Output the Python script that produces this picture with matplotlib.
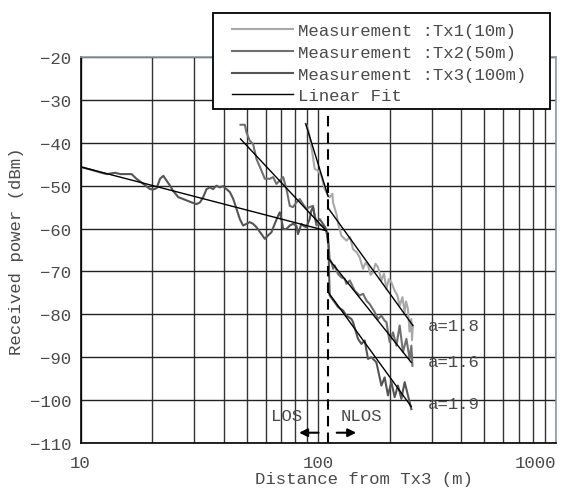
import matplotlib
matplotlib.use('Agg')
import matplotlib.pyplot as plt
from matplotlib.ticker import LogLocator, NullFormatter
from matplotlib.patches import Rectangle

plt.rcParams['font.family'] = ['Liberation Mono', 'DejaVu Sans Mono']

tx1_x = [88.6, 90.6, 93.5, 96.6, 99.8, 103, 106.4, 110, 111.7, 114.7, 115.4, 119.2, 122, 125.2,
         131.4, 136, 140, 145, 149.3, 154.3, 158, 162, 166, 170, 174, 178.4, 184.3, 189, 193.5,
         198, 203, 209.6, 215, 220, 226, 230.9, 234, 238.4, 242, 246.4, 248, 250]
tx1_y = [-35.6, -36.8, -40.7, -46.1, -46.5, -47.7, -50.8, -52.3, -52.7, -51.9, -53.9, -56.6, -59.5, -61.7,
         -62.8, -62.0, -64.8, -65.5, -66.7, -69.4, -68.0, -68.6, -70.8, -70.2, -68.2, -69.0, -72.1, -70.5, -74.1,
         -71.8, -72.5, -74.5, -75.5, -78.0, -76.0, -79.5, -77.0, -78.7, -84.0, -81.1, -86.0, -82.6]

tx2_x = [47.1, 49.1, 49.9, 51.5, 53.2, 55.0, 57.7, 59.6, 62.5, 64.6, 66.7, 68.9, 71.2, 73.5, 75.9,
         78.3, 80.9, 83.6, 86.3, 89.1, 92.0, 95.0, 96.6, 98.2, 99.8, 103, 106.4, 108, 110,
         111.7, 113.6, 115.4, 117.3, 121.1, 125.2, 129.2, 131.4, 135.7, 142.4, 149.3, 154.3, 159.5,
         164.6, 172.8, 178.4, 184.3, 190.2, 193.5, 199.7, 206.3, 213.2, 220.0, 227.2, 234.8, 242.3,
         246.4, 249]
tx2_y = [-35.8, -35.8, -37.6, -39.5, -40.3, -43.8, -46.5, -48.4, -48.4, -48.0, -49.6, -48.8, -48.0, -50.8, -54.7,
         -55.0, -53.9, -53.1, -54.3, -55.4, -55.0, -54.7, -57.0, -59.3, -58.9, -59.3, -59.7, -60.5, -62.4,
         -67.1, -67.9, -69.4, -68.6, -70.6, -71.4, -71.7, -72.9, -72.1, -74.5, -75.6, -75.2, -76.8,
         -77.6, -79.5, -81.1, -80.3, -81.5, -81.8, -86.5, -84.2, -87.3, -82.6, -88.8, -85.7, -90.4,
         -87.3, -92.0]

tx3_x = [10.1, 11.1, 12.1, 12.9, 14.0, 14.7, 16.4, 17.2, 18.4, 19.6, 20.2, 20.9, 21.6, 22.3, 23.0,
         23.8, 24.5, 25.8, 27.0, 29.3, 30.8, 31.8, 32.8, 33.9, 35.0, 36.1, 37.3, 38.5, 39.8, 41.1,
         42.5, 43.9, 45.3, 46.8, 48.3, 49.9, 51.5, 53.2, 55.0, 57.7, 59.6, 61.5, 63.5, 65.6, 67.8,
         68.9, 70.0, 71.2, 73.5, 75.9, 78.3, 80.9, 82.2, 83.6, 84.9, 86.3, 89.1, 92.0, 93.5, 95.0,
         96.6, 98.2, 101.4, 104.7, 108.1, 110.5, 111, 111.7, 117.3, 121.1, 127.1, 131.4, 137.9, 140,
         146.9, 151.9, 156.8, 161.9, 167.3, 175.6, 184.3, 190.2, 196.5, 203.0, 209.6, 216.4, 223.7,
         230.9, 238.4, 246.4]
tx3_y = [-45.7, -46.3, -46.9, -47.3, -47.0, -47.3, -47.3, -48.4, -49.6, -50.8, -50.9, -50.6, -48.4, -47.7, -48.8,
         -50.0, -51.2, -52.7, -53.1, -53.9, -54.3, -53.9, -52.7, -50.8, -50.4, -50.8, -50.0, -50.4, -50.1, -50.8,
         -51.5, -53.1, -55.4, -57.8, -59.3, -58.9, -58.5, -58.9, -59.7, -61.3, -62.4, -61.6, -60.9, -58.9, -57.0,
         -56.2, -57.8, -60.1, -60.1, -59.3, -58.9, -59.3, -61.3, -60.1, -58.9, -59.3, -59.7, -57.8, -55.8, -55.0,
         -57.0, -58.5, -57.8, -58.9, -60.1, -64.0, -70.0, -75.6, -77.2, -78.3, -79.1, -80.3, -81.1, -81.8,
         -85.7, -86.9, -86.1, -90.4, -90.0, -91.2, -96.6, -94.7, -98.9, -95.8, -99.3, -96.6, -99.7,
         -95.8, -98.9, -102.1]

# linear fit segments: (x0, x1), (y0, y1)
fits = [
    ((10.0, 108.0), (-45.6, -60.5)),    # Tx3 LOS
    ((47.1, 108.0), (-39.1, -60.5)),    # Tx2 LOS
    ((88.6, 110.0), (-35.6, -52.5)),    # Tx1 LOS
    ((110.0, 250.0), (-55.2, -82.6)),   # Tx1 NLOS
    ((110.0, 246.0), (-66.9, -91.2)),   # Tx2 NLOS
    ((110.0, 246.0), (-74.8, -101.5)),  # Tx3 NLOS
]
exponents = ['a=1.8', 'a=1.6', 'a=1.9']
exp_y = [-82.7, -91.1, -100.9]
breakpoint_x = 110

W, H = 563, 489
fig = plt.figure(figsize=(W / 100, H / 100), dpi=100)
ax = fig.add_axes([80.5 / W, 1 - 444 / H, (556 - 80.5) / W, (444 - 58) / H])

tc = '#4a4a4a'
fs = 12.5
l1, = ax.plot(tx1_x, tx1_y, color='#a8a8a8', lw=1.5, zorder=3)
l2, = ax.plot(tx2_x, tx2_y, color='#707070', lw=1.5, zorder=3)
l3, = ax.plot(tx3_x, tx3_y, color='#555555', lw=1.5, zorder=3)
for (fx, fy) in fits:
    lf, = ax.plot(fx, fy, color='black', lw=1.0, zorder=4)

ax.axvline(breakpoint_x, color='black', lw=1.5, ls=(0, (5, 3)), zorder=4)

ax.set_xscale('log')
ax.set_xlim(10, 1000)
ax.set_ylim(-110, -20)
ax.set_yticks(range(-110, -19, 10))
ax.set_xticks([10, 100, 1000])
ax.set_xticklabels(['10', '100', '1000'])
ax.xaxis.set_minor_locator(LogLocator(base=10, subs=range(2, 10)))
ax.xaxis.set_minor_formatter(NullFormatter())
ax.get_xticklabels()[-1].set_ha('right')
ax.grid(which='both', axis='x', color='#333333', lw=1.0)
ax.grid(which='major', axis='y', color='#222222', lw=1.0)
ax.tick_params(which='both', length=0, labelsize=fs, labelcolor=tc)
ax.tick_params(axis='y', pad=6.5)
ax.tick_params(axis='x', pad=9)
for s in ['left', 'bottom']:
    ax.spines[s].set_color('black')
    ax.spines[s].set_linewidth(1.2)
for s in ['top', 'right']:
    ax.spines[s].set_color('#8899aa')
    ax.spines[s].set_linewidth(1.2)

for t, yv in zip(exponents, exp_y):
    ax.text(288, yv, t, fontsize=fs, color=tc, ha='left', va='center', zorder=5)
ax.text(73.8, -103.6, 'LOS', fontsize=fs, color=tc, ha='center', va='center')
ax.text(151.8, -103.6, 'NLOS', fontsize=fs, color=tc, ha='center', va='center')
ax.annotate('', xy=(80.9, -107.6), xytext=(103, -107.6),
            arrowprops=dict(arrowstyle='-|>', color='black', lw=1.5, mutation_scale=12))
ax.annotate('', xy=(148.3, -107.6), xytext=(116.4, -107.6),
            arrowprops=dict(arrowstyle='-|>', color='black', lw=1.5, mutation_scale=12))

fig.text(17 / W, 1 - 251 / H, 'Received power (dBm)', rotation=90, fontsize=fs,
         color=tc, ha='center', va='center')
fig.text(364 / W, 1 - 480 / H, 'Distance from Tx3 (m)', fontsize=fs,
         color=tc, ha='center', va='center')

# legend box sits above the axes
fig.patches.append(Rectangle((213 / W, 1 - 110 / H), 337 / W, 96 / H, transform=fig.transFigure,
                             facecolor='white', edgecolor='black', lw=1.3, zorder=5))
leg = fig.legend([l1, l2, l3, lf],
                 ['Measurement :Tx1(10m)', 'Measurement :Tx2(50m)',
                  'Measurement :Tx3(100m)', 'Linear Fit'],
                 loc='upper left', bbox_to_anchor=(232 / W, 1 - 24 / H),
                 frameon=False, fontsize=fs, handlelength=3.5, handletextpad=0.3,
                 labelspacing=0.38, borderpad=0, borderaxespad=0)
leg.set_zorder(6)
for t in leg.get_texts():
    t.set_color(tc)

fig.savefig('out.png', dpi=100)
